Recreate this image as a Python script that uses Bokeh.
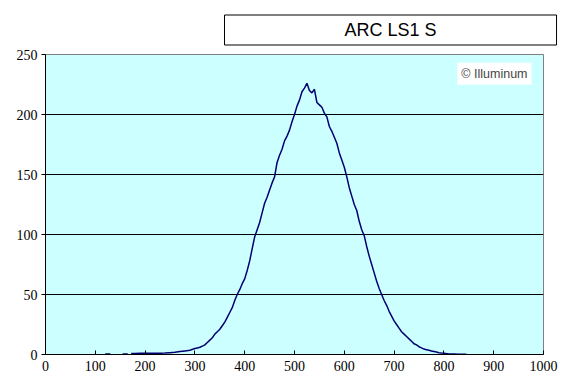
import math
from bokeh.plotting import figure
from bokeh.models import Label, FixedTicker, Range1d, Title
from bokeh.embed import file_html
from bokeh.resources import INLINE

NaN = float("nan")

wavelength = [120, 130, 140,
              155, 165, 168,
              172, 180, 190, 200, 210, 220, 230, 240, 250, 260, 270, 280, 290,
              300, 305, 310, 315, 320, 325, 330, 335, 340, 345, 350, 355, 360,
              365, 370, 375, 380, 385, 390, 395, 400, 405, 410, 415, 420, 425,
              430, 435, 440, 445, 450, 455, 460, 465, 470, 475, 480, 485, 490,
              495, 500, 505, 510, 515, 520, 525, 530, 535, 540, 545, 550, 555,
              560, 565, 570, 575, 580, 585, 590, 595, 600, 605, 610, 615, 620,
              625, 630, 635, 640, 645, 650, 655, 660, 665, 670, 675, 680, 685,
              690, 695, 700, 705, 710, 715, 720, 725, 730, 735, 740, 745, 750,
              755, 760, 765, 770, 775, 780, 785, 790, 795, 800, 810, 820, 830,
              840, 845]
intensity = [0.5, 0.5, NaN,
             0.5, 0.5, NaN,
             0.8, 0.8, 1.0, 1.0, 1.0, 1.0, 1.0, 1.2, 1.5, 1.8, 2.5, 3.0, 3.5,
             5.0, 5.5, 6.0, 7.0, 8.0, 10, 12, 14, 17, 19, 21, 24, 27,
             31, 35, 39, 45, 50, 54, 59, 63, 70, 78, 88, 98, 104,
             110, 118, 126, 131, 137, 143, 148, 160, 166, 171, 178, 182, 187,
             194, 200, 207, 212, 219, 222, 226, 220, 218, 221, 210, 208, 206,
             201, 198, 190, 186, 181, 176, 168, 162, 156, 148, 139, 132, 125,
             120, 111, 104, 99, 90, 82, 75, 68, 61, 55, 50, 45, 41,
             36, 32, 28, 25, 22, 19, 17, 15, 13, 11, 9, 8, 6.5,
             5.5, 4.5, 4.0, 3.5, 3.0, 2.5, 2.0, 1.5, 1.2, 1.0, 0.5, 0.5, 0.3,
             0.3, 0.2]

x_ticks = [0, 100, 200, 300, 400, 500, 600, 700, 800, 900, 1000]
y_ticks = [0, 50, 100, 150, 200, 250]
grid_ticks = [50, 100, 150, 200]

title_text = "ARC LS1 S"
credit_text = "\u00a9 Illuminum"

title = Title(text=title_text, align="left", offset=179, standoff=19,
              text_font="Liberation Sans", text_font_size="18px",
              text_font_style="normal", text_color="black",
              background_fill_color="white", border_line_color="black",
              border_line_width=1,
              padding=dict(left=120, right=120, top=5, bottom=5))

p = figure(width=561, height=384, output_backend="svg", toolbar_location=None,
           x_range=Range1d(0, 1000), y_range=Range1d(0, 250),
           min_border_left=45, min_border_right=18, min_border_top=54,
           min_border_bottom=30, title=title)
p.background_fill_color = "#CCFFFF"
p.border_fill_color = "white"
p.outline_line_color = "#808080"
p.outline_line_width = 1

p.xgrid.visible = False
p.ygrid.ticker = FixedTicker(ticks=grid_ticks)
p.ygrid.grid_line_color = "black"
p.ygrid.grid_line_width = 1

p.xaxis.ticker = FixedTicker(ticks=x_ticks)
p.yaxis.ticker = FixedTicker(ticks=y_ticks)
for ax in (p.xaxis, p.yaxis):
    ax.axis_line_color = "black"
    ax.major_tick_line_color = "black"
    ax.minor_tick_line_color = None
    ax.major_label_text_font = "Liberation Sans Narrow"
    ax.major_label_text_font_size = "14px"
    ax.major_label_text_color = "black"
p.xaxis.major_tick_in = 4
p.xaxis.major_tick_out = 0
p.xaxis.major_label_standoff = 6
p.yaxis.major_tick_in = 0
p.yaxis.major_tick_out = 4
p.yaxis.major_label_standoff = 4

p.line(wavelength, intensity, line_color="#000070", line_width=1.5)

credit = Label(x=827, y=234, text=credit_text, text_font="Liberation Sans",
               text_font_size="12.5px", text_baseline="middle", text_align="left",
               background_fill_color="white",
               padding=dict(left=4, right=4, top=4, bottom=4))
p.add_layout(credit)

open("out.html", "w").write(file_html(p, INLINE))
